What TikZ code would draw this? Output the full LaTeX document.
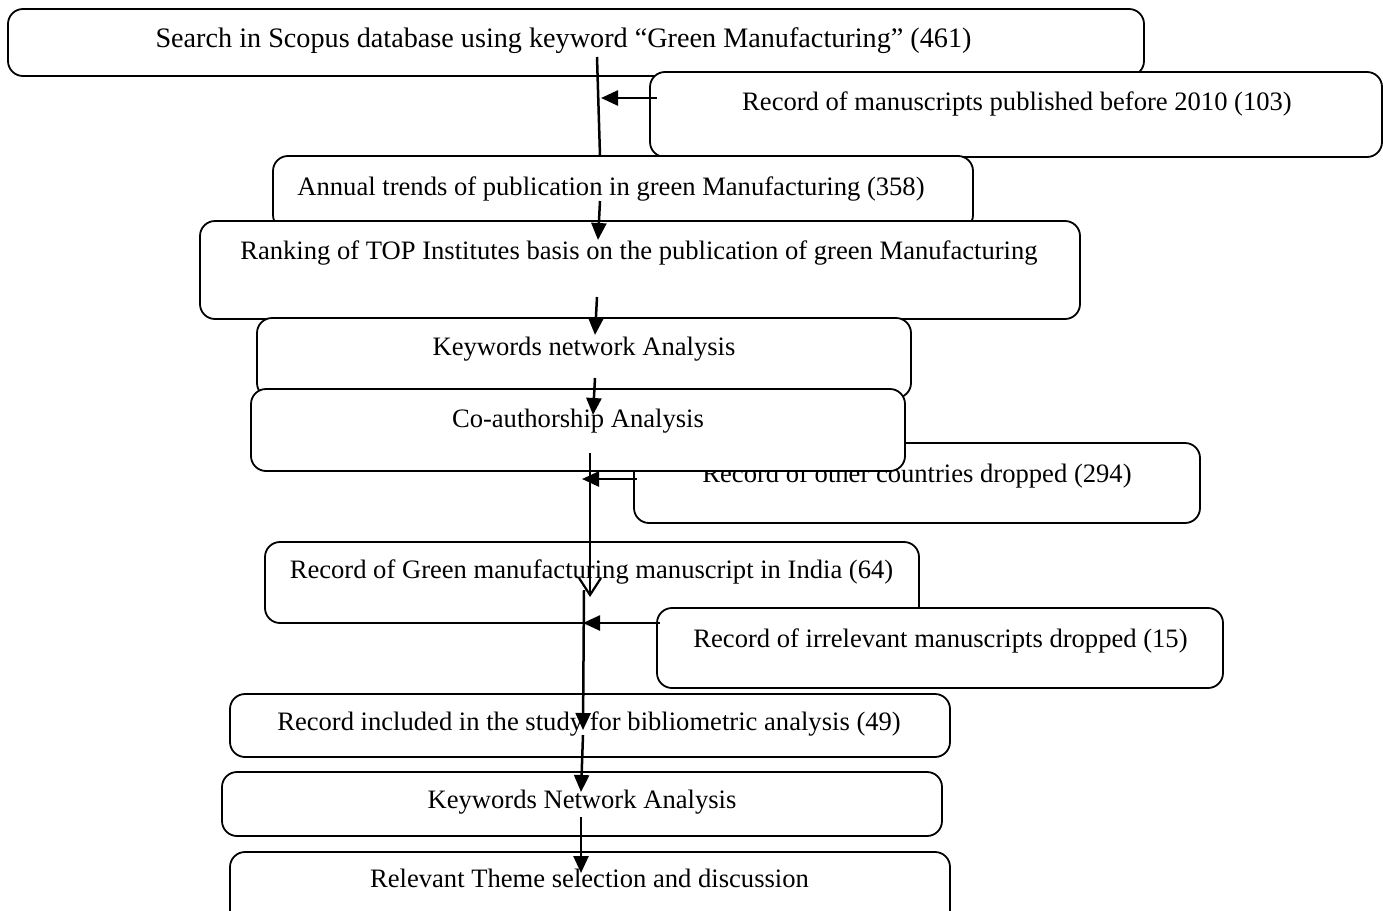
\documentclass[tikz,border=0pt]{standalone}
\usepackage{fontspec}
\setmainfont{Liberation Serif}
\usetikzlibrary{arrows.meta}
\begin{document}
\begin{tikzpicture}[x=1pt,y=-1pt,
 box/.style={draw, line width=1.8pt, rounded corners=15pt, fill=white, inner sep=0pt, outer sep=0pt},
 lbl/.style={font=\fontsize{26.6}{30}\selectfont, inner sep=0pt, anchor=base},
 biglbl/.style={font=\fontsize{28.2}{32}\selectfont, inner sep=0pt, anchor=base},
 flow/.style={line width=2.5pt, -{Triangle[length=17pt,width=15pt]}},
 plainline/.style={line width=2.5pt},
 openflow/.style={line width=2.2pt, -{Straight Barb[length=17pt,width=22pt,line width=2.2pt]}}]
\useasboundingbox (0,0) rectangle (1383,910);
\clip (0,0) rectangle (1383,910);

% box 1
\node[box, minimum width=1136pt, minimum height=67pt] (b1) at (576,42.5) {};
\node[biglbl] (t1) at (563.5,47) {Search in Scopus database using keyword “Green Manufacturing” (461)};
% box 2
\node[box, minimum width=732pt, minimum height=85pt] (b2) at (1016,114.5) {};
\node[lbl] (t2) at (1017,110) {Record of manuscripts published before 2010 (103)};
% box 3
\node[box, minimum width=700pt, minimum height=74pt] (b3) at (623,193) {};
\node[lbl] (t3) at (611,195) {Annual trends of publication in green Manufacturing (358)};
% box 4
\node[box, minimum width=880pt, minimum height=98pt] (b4) at (640,270) {};
\node[lbl] (t4) at (639,259) {Ranking of TOP Institutes basis on the publication of green Manufacturing};
% box 5
\node[box, minimum width=654pt, minimum height=80pt] (b5) at (584,358) {};
\node[lbl] (t5) at (584,355) {Keywords network Analysis};
% box 7 (behind box 6)
\node[box, minimum width=566pt, minimum height=80pt] (b7) at (917,483) {};
\node[lbl] (t7) at (917,482) {Record of other countries dropped (294)};
% box 6
\node[box, minimum width=654pt, minimum height=82pt] (b6) at (578,430) {};
\node[lbl] (t6) at (578,427) {Co-authorship Analysis};
% box 8
\node[box, minimum width=654pt, minimum height=81pt] (b8) at (592,582.5) {};
\node[lbl] (t8) at (591.5,578) {Record of Green manufacturing manuscript in India (64)};
% box 9
\node[box, minimum width=566pt, minimum height=80pt] (b9) at (940,648) {};
\node[lbl] (t9) at (940.5,647) {Record of irrelevant manuscripts dropped (15)};
% box 10
\node[box, minimum width=720pt, minimum height=63pt] (b10) at (590,725.5) {};
\node[lbl] (t10) at (589,730) {Record included in the study for bibliometric analysis (49)};
% box 11
\node[box, minimum width=720pt, minimum height=64pt] (b11) at (582,804) {};
\node[lbl] (t11) at (582,808) {Keywords Network Analysis};
% box 12
\node[box, minimum width=720pt, minimum height=80pt] (b12) at (590,892) {};
\node[lbl] (t12) at (589.5,887) {Relevant Theme selection and discussion};

% connector end points
\coordinate (c1a) at (597,57);  \coordinate (c1b) at (600,156);
\coordinate (c2a) at (657,98);  \coordinate (c2b) at (601,98);
\coordinate (c3a) at (600,201); \coordinate (c3b) at (598,240);
\coordinate (c4a) at (597,297); \coordinate (c4b) at (595,335);
\coordinate (c5a) at (595,378); \coordinate (c5b) at (593,415);
\coordinate (c6a) at (590,453); \coordinate (c6b) at (590,597);
\coordinate (c7a) at (637,479); \coordinate (c7b) at (582,479);
\coordinate (c8a) at (584,590); \coordinate (c8b) at (583,730);
\coordinate (c9a) at (660,623); \coordinate (c9b) at (583,623);
\coordinate (c10a) at (583,735); \coordinate (c10b) at (581,792);
\coordinate (c11a) at (581,817); \coordinate (c11b) at (581,873);

\draw[plainline] (c1a) -- (c1b);
\draw[flow] (c2a) -- (c2b);
\draw[flow] (c3a) -- (c3b);
\draw[flow] (c4a) -- (c4b);
\draw[flow] (c5a) -- (c5b);
\draw[openflow] (c6a) -- (c6b);
\draw[flow] (c7a) -- (c7b);
\draw[flow] (c8a) -- (c8b);
\draw[flow] (c9a) -- (c9b);
\draw[flow] (c10a) -- (c10b);
\draw[flow] (c11a) -- (c11b);
\end{tikzpicture}
\end{document}
